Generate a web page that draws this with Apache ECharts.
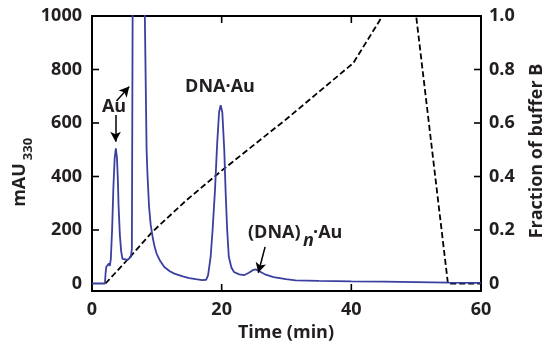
<!DOCTYPE html>
<html><head><meta charset="utf-8">
<script src="https://cdn.jsdelivr.net/npm/echarts@6/dist/echarts.min.js"></script>
<style>html,body{margin:0;padding:0;background:#fff}#c{width:547px;height:346px}</style>
</head><body><div id="c"></div>
<script>
// Chromatogram absorbance (time in min, mAU330)
const absTime = [0,2.0,2.1,2.2,2.4,2.6,2.75,2.9,3.1,3.3,3.5,3.68,3.85,4.0,4.1,4.3,4.5,4.7,5.0,5.5,6.0,6.15,6.28,7.2,8.15,8.42,8.55,8.8,9.05,9.35,9.65,9.96,10.5,11.15,12.0,12.7,14,15,16,17,17.6,17.9,18.3,18.6,18.97,19.3,19.6,19.85,20.1,20.4,20.6,20.85,21.1,21.5,21.9,22.7,23.45,24.2,24.8,25.25,25.8,26.8,28,29.9,31.4,35,40,45,50,55,60];
const absValue = [0,0,40,62,68,75,66,90,200,360,470,505,470,380,290,180,120,92,85,88,100,130,1100,2500,1000,500,411,287,220,174,138,112,85,62,46,37,27,20,16,13,14,30,100,200,349,520,640,667,640,500,349,200,100,60,43,34,31,40,50,53,46,33,24,16,12,10,8,7,5,3,2];
// Gradient: fraction of buffer B
const gradTime = [2.08,5.4,9.3,14.5,20,30,40.3,44.8,50,54.9,60];
const gradValue = [0,0.087,0.193,0.31,0.422,0.615,0.824,1.0,1.0,0,0];
// Axis ticks
const xTicks = [0,20,40,60];
const xInnerTicks = [20,40];
const leftTicks = [0,200,400,600,800,1000];
const leftInnerTicks = [200,400,600,800];
const rightTicks = [0,0.2,0.4,0.6,0.8,1.0];
const rightInnerTicks = [0.2,0.4,0.6,0.8];
// Annotation arrows [t1,v1,t2,v2] in mAU coordinates
const arrows = [[3.63,630,3.63,530],[3.78,682,5.75,736],[26.7,137,25.65,40]];

const X_MIN = 0, X_MAX = 60, L_MIN = -28, L_MAX = 1000, R_MIN = -0.028, R_MAX = 1.0;
const TICK_PX = 7;

const FONT = 'Open Sans';
const TXT = '#231f20';
const chart = echarts.init(document.getElementById('c'), null, {renderer:'canvas'});
const axLine = ()=>({show:true, onZero:false, lineStyle:{color:'#000', width:2}});
const lab = (extra)=>Object.assign({show:true, fontFamily:FONT, fontWeight:'bold', fontSize:18, color:TXT}, extra||{});
const txt = (id, x, y, text, font, extra)=>Object.assign({id, type:'text', x, y, z:10,
  style:{text, align:'center', verticalAlign:'middle', font, fill:TXT}}, extra||{});

chart.setOption({
  animation:false,
  grid:{left:92, right:66, top:16, bottom:55, containLabel:false, show:true, borderColor:'#000', borderWidth:2, backgroundColor:'transparent'},
  xAxis:[
    {type:'value', min:X_MIN, max:X_MAX, interval:20, position:'bottom', axisLine:axLine(),
     axisTick:{show:false}, splitLine:{show:false},
     axisLabel:lab({margin:10, customValues:xTicks, formatter:v=>String(v)})}
  ],
  yAxis:[
    {type:'value', min:L_MIN, max:L_MAX, position:'left', axisLine:axLine(),
     axisTick:{show:false}, splitLine:{show:false},
     axisLabel:lab({margin:10, customValues:leftTicks, formatter:v=>String(v)})},
    {type:'value', min:R_MIN, max:R_MAX, position:'right', axisLine:axLine(),
     axisTick:{show:false}, splitLine:{show:false},
     axisLabel:lab({margin:8, customValues:rightTicks,
       formatter:v=> Math.abs(v)<1e-9 ? '0' : v.toFixed(1)})}
  ],
  series:[
    {type:'line', xAxisIndex:0, yAxisIndex:1, showSymbol:false, symbol:'none',
     data:gradTime.map((t,i)=>[t,gradValue[i]]),
     lineStyle:{color:'#000', width:1.8, type:[6,3]}, z:2},
    {type:'line', xAxisIndex:0, yAxisIndex:0, showSymbol:false, symbol:'none', clip:true,
     data:absTime.map((t,i)=>[t,absValue[i]]),
     lineStyle:{color:'#3b3f9f', width:1.8}, z:3,
     markLine:{silent:true, symbol:['none','arrow'], symbolSize:[8,10], label:{show:false}, animation:false,
       lineStyle:{color:'#000', width:1.5, type:'solid'},
       data:arrows.map(a=>[{coord:[a[0],a[1]]},{coord:[a[2],a[3]]}])}
    }
  ],
  graphic:[
    txt('t1', 286, 333, 'Time (min)', 'bold 18px "Open Sans"'),
    txt('t2', 20, 185, 'mAU', 'bold 18px "Open Sans"', {rotation:Math.PI/2}),
    txt('t3', 28, 149, '330', 'bold 13px "Open Sans"', {rotation:Math.PI/2}),
    txt('t4', 537, 151, 'Fraction of buffer B', 'bold 18px "Open Sans"', {rotation:Math.PI/2}),
    txt('t5', 114, 107, 'Au', 'bold 18px "Open Sans"'),
    txt('t6', 220, 87, 'DNA·Au', 'bold 18px "Open Sans"'),
    {id:'t7', type:'text', x:248, y:233, z:10, style:{text:'(DNA)', align:'left', verticalAlign:'middle', font:'bold 18px "Open Sans"', fill:TXT}},
    {id:'t8', type:'text', x:303, y:241, z:10, style:{text:'n', align:'left', verticalAlign:'middle', font:'italic bold 18px "Open Sans"', fill:TXT}},
    {id:'t9', type:'text', x:313, y:233, z:10, style:{text:'·Au', align:'left', verticalAlign:'middle', font:'bold 18px "Open Sans"', fill:TXT}}
  ]
});

// Inward tick marks placed with the axes' own scales (convertToPixel)
const L = {xAxisIndex:0, yAxisIndex:0}, R = {xAxisIndex:0, yAxisIndex:1};
const tickEls = [];
function tk(id, p, dx, dy){
  tickEls.push({id, type:'line', z:20, silent:true,
    shape:{x1:p[0], y1:p[1], x2:p[0]+dx, y2:p[1]+dy},
    style:{stroke:'#000', lineWidth:1.6}});
}
xInnerTicks.forEach((t,i)=>{
  tk('xb'+i, chart.convertToPixel(L,[t,L_MIN]), 0, -TICK_PX);
  tk('xt'+i, chart.convertToPixel(L,[t,L_MAX]), 0, TICK_PX);
});
leftInnerTicks.forEach((v,i)=>tk('yl'+i, chart.convertToPixel(L,[X_MIN,v]), TICK_PX, 0));
rightInnerTicks.forEach((v,i)=>tk('yr'+i, chart.convertToPixel(R,[X_MAX,v]), -TICK_PX, 0));
chart.setOption({graphic:tickEls});
</script></body></html>
